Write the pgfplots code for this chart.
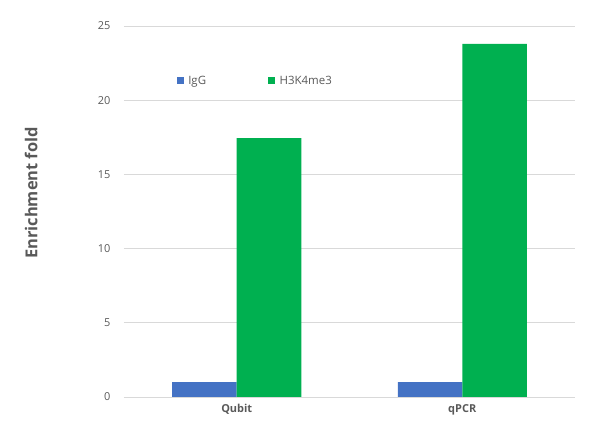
\documentclass[border=0pt]{standalone}
\usepackage{pgfplots}
\pgfplotsset{compat=1.18}
\usepackage{fontspec}
\setmainfont{Open Sans}
\definecolor{cblue}{HTML}{4472C4}
\definecolor{cgreen}{HTML}{00B050}
\definecolor{ctext}{HTML}{595959}
\definecolor{cgrid}{HTML}{D9D9D9}
\begin{document}
\begin{tikzpicture}[x=1bp,y=1bp]
\useasboundingbox (-124bp,-37bp) rectangle (491bp,397bp);
\begin{axis}[
  at={(0,0)}, anchor=south west,
  scale only axis, width=451bp, height=371bp,
  ybar=0pt, bar width=64.5bp,
  xmin=-0.5, xmax=1.5, ymin=0, ymax=25,
  xtick={0,1}, xticklabels={Qubit,qPCR},
  ytick={0,5,10,15,20,25},
  axis x line*=bottom, axis y line*=left,
  x axis line style={draw=cgrid},
  y axis line style={draw=none},
  ymajorgrids, grid style={draw=cgrid, line width=0.8bp},
  major tick length=0pt,
  tick label style={font=\fontsize{11}{13}\selectfont, text=ctext},
  xticklabel style={font=\fontsize{11}{13}\selectfont\bfseries, yshift=-4bp},
  yticklabel style={xshift=-10bp},
  /pgf/number format/assume math mode=true,
  ylabel={Enrichment fold},
  every axis y label/.style={at={(rel axis cs:-0.206,0.55)}, anchor=center, rotate=90,
     font=\fontsize{16.5}{19}\selectfont\bfseries, text=ctext},
  legend style={draw=none, fill=none, at={(rel axis cs:0.11,0.852)}, anchor=west,
     font=\fontsize{11.5}{13}\selectfont, text=ctext, legend columns=2,
     /tikz/every even column/.append style={column sep=60bp}},
  legend image code/.code={\fill[#1] (0bp,-3.5bp) rectangle (7bp,3.5bp); \path (9.5bp,0bp);},
]
\addplot[fill=cblue, draw=none] coordinates {(0,1.0) (1,1.0)};
\addplot[fill=cgreen, draw=none] coordinates {(0,17.45) (1,23.8)};
\legend{IgG,H3K4me3}
\end{axis}
\end{tikzpicture}
\end{document}
